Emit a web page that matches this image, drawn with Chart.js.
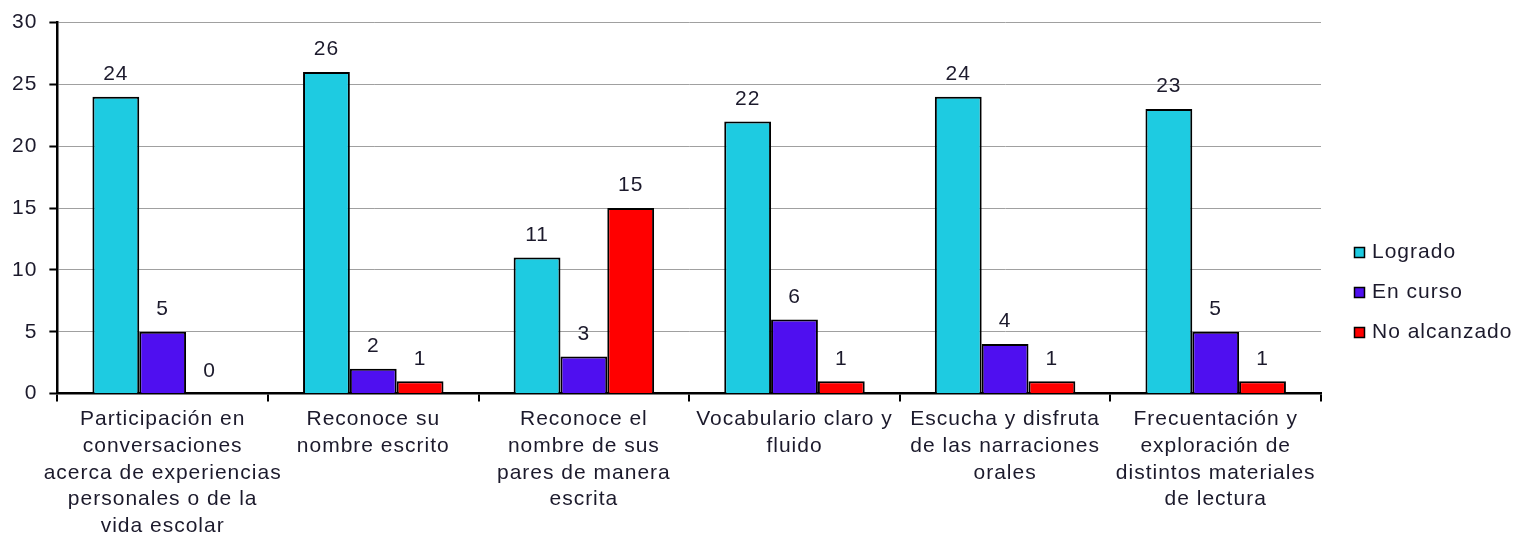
<!DOCTYPE html>
<html>
<head>
<meta charset="utf-8">
<script src="https://cdn.jsdelivr.net/npm/chart.js@4.4.0/dist/chart.umd.min.js"></script>
<style>
    html, body { margin: 0; padding: 0; background: #fff; }
    #caixa { width: 1521px; height: 544px; position: relative; }
</style>
</head>
<body>
<div id="caixa"><canvas id="grafico"></canvas></div>
<script>
// dados
const categorias = [
    ["Participación en", "conversaciones", "acerca de experiencias", "personales o de la", "vida escolar"],
    ["Reconoce su", "nombre escrito"],
    ["Reconoce el", "nombre de sus", "pares de manera", "escrita"],
    ["Vocabulario claro y", "fluido"],
    ["Escucha y disfruta", "de las narraciones", "orales"],
    ["Frecuentación y", "exploración de", "distintos materiales", "de lectura"]
];
const logrado = [24, 26, 11, 22, 24, 23];
const enCurso = [5, 2, 3, 6, 4, 5];
const noAlcanzado = [0, 1, 15, 1, 1, 1];
const ticksY = [0, 5, 10, 15, 20, 25, 30];

const corTexto = '#1c1a2c';
const fonte = 'Arial, "Liberation Sans", sans-serif';
const espacamento = '1px';

// o texto original é um pouco mais espaçado
const espacoLetras = {
    id: 'espacoLetras',
    beforeLayout(chart) { chart.ctx.letterSpacing = espacamento; },
    beforeDraw(chart) { chart.ctx.letterSpacing = espacamento; }
};

// rótulos de valor em cima de cada barra
const rotulosBarras = {
    id: 'rotulosBarras',
    afterDatasetsDraw(chart) {
        const ctx = chart.ctx;
        ctx.save();
        ctx.font = '21px ' + fonte;
        ctx.fillStyle = corTexto;
        ctx.textAlign = 'center';
        ctx.textBaseline = 'bottom';
        chart.data.datasets.forEach((ds, i) => {
            chart.getDatasetMeta(i).data.forEach((barra, j) => {
                ctx.fillText(String(ds.data[j]), barra.x, barra.y - 12);
            });
        });
        ctx.restore();
    }
};

// legenda desenhada à direita
const legendaLateral = {
    id: 'legendaLateral',
    afterDraw(chart) {
        const ctx = chart.ctx;
        ctx.save();
        ctx.font = '21px ' + fonte;
        ctx.textBaseline = 'middle';
        chart.data.datasets.forEach((ds, i) => {
            const y = 252 + i * 40;
            ctx.fillStyle = ds.backgroundColor;
            ctx.fillRect(1354, y - 5, 11, 11);
            ctx.strokeStyle = '#000';
            ctx.lineWidth = 1.5;
            ctx.strokeRect(1354.5, y - 4.5, 10, 10);
            ctx.fillStyle = corTexto;
            ctx.fillText(ds.label, 1372, y);
        });
        ctx.restore();
    }
};

new Chart(document.getElementById('grafico'), {
    type: 'bar',
    data: {
        labels: categorias,
        datasets: [
            { label: 'Logrado', data: logrado, backgroundColor: '#1ecbe1' },
            { label: 'En curso', data: enCurso, backgroundColor: '#4f0ff0' },
            { label: 'No alcanzado', data: noAlcanzado, backgroundColor: '#ff0000' }
        ]
    },
    options: {
        responsive: true,
        maintainAspectRatio: false,
        animation: false,
        layout: { padding: { top: 0, left: 0, right: 200, bottom: 0 } },
        datasets: {
            bar: {
                borderColor: '#000',
                borderWidth: 2,
                borderSkipped: 'bottom',
                categoryPercentage: 0.667,
                barPercentage: 1
            }
        },
        plugins: {
            legend: { display: false },
            tooltip: { enabled: false }
        },
        scales: {
            x: {
                offset: true,
                border: { display: true, color: '#000', width: 2.5 },
                grid: {
                    display: true,
                    drawOnChartArea: false,
                    drawTicks: true,
                    tickLength: 8,
                    offset: true,
                    color: '#000',
                    lineWidth: 2
                },
                ticks: {
                    color: corTexto,
                    font: { family: fonte, size: 21, lineHeight: 1.28 },
                    maxRotation: 0,
                    autoSkip: false,
                    padding: 4
                }
            },
            y: {
                min: 0,
                max: 30,
                afterBuildTicks(eixo) {
                    eixo.ticks = ticksY.map(v => ({ value: v }));
                },
                border: { display: true, color: '#000', width: 2.5 },
                grid: {
                    color: '#a0a0a0',
                    lineWidth: 1,
                    tickColor: '#000',
                    tickLength: 8,
                    tickWidth: 2
                },
                ticks: {
                    color: corTexto,
                    font: { family: fonte, size: 21, lineHeight: 1.0 },
                    padding: 12
                }
            }
        }
    },
    plugins: [espacoLetras, rotulosBarras, legendaLateral]
});
</script>
</body>
</html>
